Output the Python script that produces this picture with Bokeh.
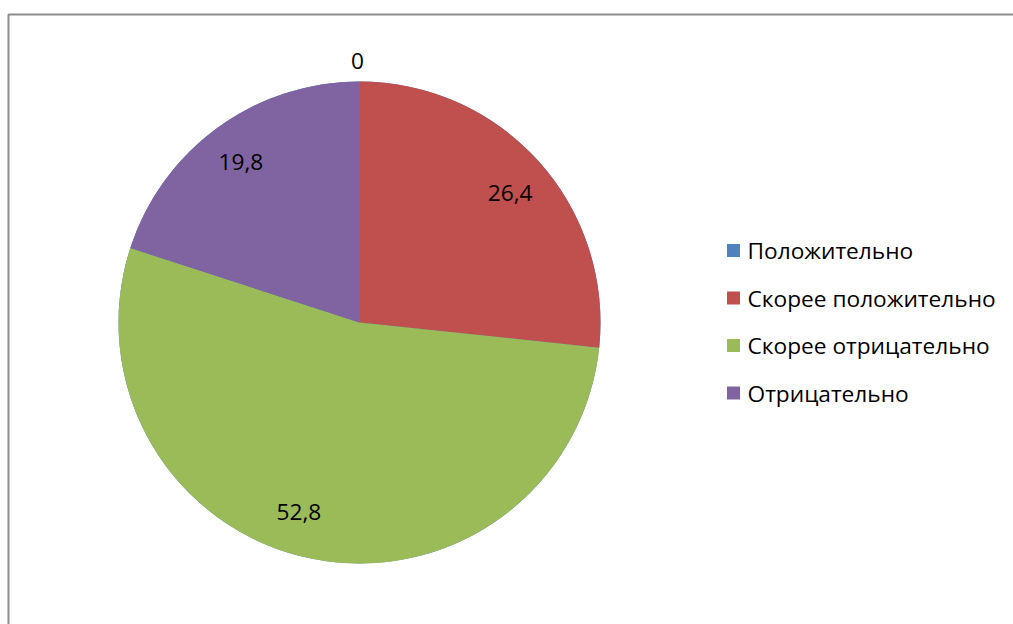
import math
from bokeh.plotting import figure
from bokeh.models import Range1d, ColumnDataSource
from bokeh.core.properties import value
from bokeh.embed import file_html
from bokeh.resources import INLINE

categories = ["Положительно", "Скорее положительно", "Скорее отрицательно", "Отрицательно"]
values = [0, 26.4, 52.8, 19.8]
labels = ["0", "26,4", "52,8", "19,8"]
colors = ["#4F81BD", "#C0504D", "#9BBB59", "#8064A2"]

# label nudges in pixels (x right, y down) to mimic best-fit label placement
label_nudge_x = [-2, 2, -19, -1]
label_nudge_y = [1, 4, -6, 1]

W, H = 1013, 624
FONT = "Open Sans"
FS = "22.7px"

p = figure(width=W, height=H, output_backend="svg", toolbar_location=None,
           x_range=Range1d(0, W), y_range=Range1d(0, H), min_border=0)
p.axis.visible = False
p.grid.visible = False
p.outline_line_color = None
p.background_fill_color = "white"

# frame (left and top borders)
p.line([8, 8, W], [0, H - 14, H - 14], line_color="#8c8c8c", line_width=2)

cx, cy, R = 359, H - 322, 241
total = sum(values)
starts, ends, lx, ly = [], [], [], []
cum = 0.0
for i, v in enumerate(values):
    a0 = math.pi / 2 - 2 * math.pi * cum / total
    cum += v
    a1 = math.pi / 2 - 2 * math.pi * cum / total
    starts.append(a0)
    ends.append(a1)
    mid = (a0 + a1) / 2
    r = R + 22 if v == 0 else 0.83 * R
    lx.append(cx + r * math.cos(mid) + label_nudge_x[i])
    ly.append(cy + r * math.sin(mid) - label_nudge_y[i])

src = ColumnDataSource(dict(start=starts, end=ends, color=colors, lx=lx, ly=ly, lab=labels))
p.wedge(x=cx, y=cy, radius=R, start_angle="start", end_angle="end", direction="clock",
        fill_color="color", line_color="white", line_width=0, source=src)
p.text(x="lx", y="ly", text="lab", source=src, text_align="center", text_baseline="middle",
       text_font=value(FONT), text_font_size=FS, text_color="black")

# legend
lgx = [733] * len(categories)
lgy = [H - (250 + 47.5 * i) for i in range(len(categories))]
p.rect(x=lgx, y=lgy, width=13, height=13, fill_color=colors, line_color=None)
p.text(x=[747] * len(categories), y=lgy, text=categories, text_align="left", text_baseline="middle",
       text_font=value(FONT), text_font_size=FS, text_color="black")

open("out.html", "w").write(file_html(p, INLINE))
